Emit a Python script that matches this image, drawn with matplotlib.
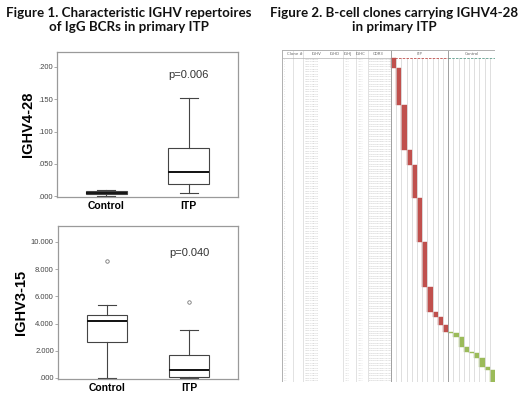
import matplotlib
matplotlib.use("Agg")
import matplotlib.pyplot as plt

# ---------------- data ----------------
groups = ["Control", "ITP"]

# Figure 1, top panel: IGHV4-28 (box stats per group)
v428_whislo = [0.001, 0.005]
v428_q1 = [0.003, 0.019]
v428_med = [0.005, 0.037]
v428_q3 = [0.008, 0.075]
v428_whishi = [0.010, 0.152]
v428_fliers = [[], []]
v428_ticks = [0.0, 0.05, 0.10, 0.15, 0.20]
v428_ticklabels = [".000", ".050", ".100", ".150", ".200"]
v428_p = "p=0.006"

# Figure 1, bottom panel: IGHV3-15
v315_whislo = [0.02, 0.02]
v315_q1 = [2.65, 0.05]
v315_med = [4.2, 0.55]
v315_q3 = [4.6, 1.7]
v315_whishi = [5.35, 3.5]
v315_fliers = [[8.6], [5.55]]
v315_ticks = [0, 2, 4, 6, 8, 10]
v315_ticklabels = [".000", "2.000", "4.000", "6.000", "8.000", "10.000"]
v315_p = "p=0.040"

# Figure 2: clone table, one block per sample column (rows start/end)
n_rows = 130
n_itp_cols = 11
n_ctrl_cols = 9
block_col = list(range(20))
block_start = [0, 4, 19, 37, 43, 56, 74, 92, 102, 104, 107,
               110, 110.5, 112, 116, 118, 118.5, 120.5, 124, 125]
block_end = [4, 19, 37, 43, 56, 74, 92, 102, 104, 107, 110,
             110.4, 112, 116, 118, 118.4, 120.5, 124, 125, 130]
header_labels = ["Clone #", "IGHV", "IGHD", "IGHJ", "IGHC", "CDR3"]
row_ighv = "IGHV4-28*01"
row_ighj = "IGHJ4"
row_ighc = "IGHG1"
row_cdr3 = "CARDGYSSGWYFDYW"

RED = "#c0504d"
GREEN = "#9bbb59"

W, H = 520, 398
fig = plt.figure(figsize=(W / 100, H / 100), dpi=100)


def px_axes(x0, y0, x1, y1):
    return fig.add_axes([x0 / W, 1 - y1 / H, (x1 - x0) / W, (y1 - y0) / H])


TITLE_FONT = dict(family="Lato", weight="bold", fontsize=9.6, color="#111111")
fig.text(129 / W, 1 - 20 / H,
         "Figure 1. Characteristic IGHV repertoires\nof IgG BCRs in primary ITP",
         ha="center", va="center", linespacing=1.25, **TITLE_FONT)
fig.text(394 / W, 1 - 20 / H,
         "Figure 2. B-cell clones carrying IGHV4-28\nin primary ITP",
         ha="center", va="center", linespacing=1.25, **TITLE_FONT)


def box_panel(ax, whislo, q1, med, q3, whishi, fliers, ticks, ticklabels,
              ylim, ylabel, ptext, py):
    stats = []
    for i in range(len(groups)):
        stats.append(dict(whislo=whislo[i], q1=q1[i], med=med[i], q3=q3[i],
                          whishi=whishi[i], fliers=fliers[i], label=groups[i]))
    ax.bxp(stats, positions=[1, 2], widths=0.49, patch_artist=True,
           boxprops=dict(facecolor="white", edgecolor="#444444", linewidth=0.8),
           whiskerprops=dict(color="#444444", linewidth=0.8),
           capprops=dict(color="#444444", linewidth=0.8),
           medianprops=dict(color="#111111", linewidth=1.4),
           flierprops=dict(marker="o", markersize=2.5, markerfacecolor="none",
                           markeredgecolor="#777777", markeredgewidth=0.6),
           capwidths=0.22)
    ax.set_xlim(0.4, 2.6)
    ax.set_ylim(*ylim)
    ax.set_yticks(ticks)
    ax.set_yticklabels(ticklabels, fontsize=5.5, color="#444444",
                       family="Liberation Sans")
    ax.set_xticks([1, 2])
    ax.set_xticklabels(groups, fontsize=7.5, fontweight="bold",
                       family="Liberation Sans")
    ax.tick_params(axis="y", length=2, width=0.5, color="#888888", pad=1)
    ax.tick_params(axis="x", length=0, pad=3)
    for s in ax.spines.values():
        s.set_color("#9a9a9a")
        s.set_linewidth(0.9)
    ax.set_ylabel(ylabel, fontsize=10.5, fontweight="bold",
                  family="Liberation Sans", labelpad=2)
    ax.text(2.0, py, ptext, ha="center", va="center", fontsize=8,
            color="#333333", family="Liberation Sans")


ax1 = px_axes(57, 52, 238, 197)
box_panel(ax1, v428_whislo, v428_q1, v428_med, v428_q3, v428_whishi,
          v428_fliers, v428_ticks, v428_ticklabels, (-0.0012, 0.223),
          "IGHV4-28", v428_p, 0.188)

ax2 = px_axes(58, 226, 238, 379)
box_panel(ax2, v315_whislo, v315_q1, v315_med, v315_q3, v315_whishi,
          v315_fliers, v315_ticks, v315_ticklabels, (-0.08, 11.17),
          "IGHV3-15", v315_p, 9.2)

# ---------------- Figure 2: clone table ----------------
ax3 = px_axes(282, 50, 495, 382)
n_cols = n_itp_cols + n_ctrl_cols
x_left = -21.0
ax3.set_xlim(x_left, n_cols)
ax3.set_ylim(n_rows, -3.2)
ax3.axis("off")

# text column separators and header positions (in column units)
sep_x = [-18.8, -16.9, -9.2, -6.7, -4.4]
head_x = [-18.6, -14.4, -10.8, -8.3, -5.8, -2.5]
for x in sep_x:
    ax3.plot([x, x], [-3.2, n_rows], color="#d6d6d6", lw=0.5)
for i in range(n_cols + 1):
    c = "#a0a0a0" if i in (0, n_itp_cols) else "#d2d2d2"
    ax3.plot([i, i], [-3.2 if i in (0, n_itp_cols) else 0, n_rows],
             color=c, lw=0.5 if c == "#d2d2d2" else 0.7)
for x in (x_left, n_cols):
    ax3.plot([x, x], [-3.2, n_rows], color="#b0b0b0", lw=0.7)
ax3.plot([x_left, n_cols], [-3.2, -3.2], color="#b0b0b0", lw=0.7)
ax3.plot([x_left, n_cols], [n_rows, n_rows], color="#b0b0b0", lw=0.7)
ax3.plot([x_left, 0], [0, 0], color="#b0b0b0", lw=0.5)
ax3.plot([0, n_itp_cols], [0, 0], color=RED, lw=0.6, ls=(0, (3, 1.5)))
ax3.plot([n_itp_cols, n_cols], [0, 0], color="#5f9e8c", lw=0.6, ls=(0, (3, 1.5)))

for lab, x in zip(header_labels, head_x):
    ax3.text(x, -1.6, lab, ha="center", va="center", fontsize=2.8,
             color="#666666")
ax3.text(n_itp_cols / 2, -1.6, "ITP", ha="center", va="center",
         fontsize=2.8, color="#666666")
ax3.text(n_itp_cols + n_ctrl_cols / 2, -1.6, "Control", ha="center",
         va="center", fontsize=2.8, color="#666666")

for r in range(n_rows):
    y = r + 0.5
    ax3.text(-20.6, y, str(r + 1), fontsize=1.3, color="#cccccc", va="center")
    ax3.text(-16.7, y, row_ighv, fontsize=1.5, color="#b8b8b8", va="center")
    ax3.text(-9.0, y, row_ighj, fontsize=1.3, color="#cccccc", va="center")
    ax3.text(-6.5, y, row_ighc, fontsize=1.3, color="#cccccc", va="center")
    ax3.text(-4.3, y, row_cdr3, fontsize=1.5, color="#b8b8b8", va="center")

for c, s, e in zip(block_col, block_start, block_end):
    color = RED if c < n_itp_cols else GREEN
    ax3.bar(c + 0.5, e - s, bottom=s, width=1.0, color=color,
            edgecolor=color, linewidth=0.3)

fig.savefig("out.png", dpi=100)
